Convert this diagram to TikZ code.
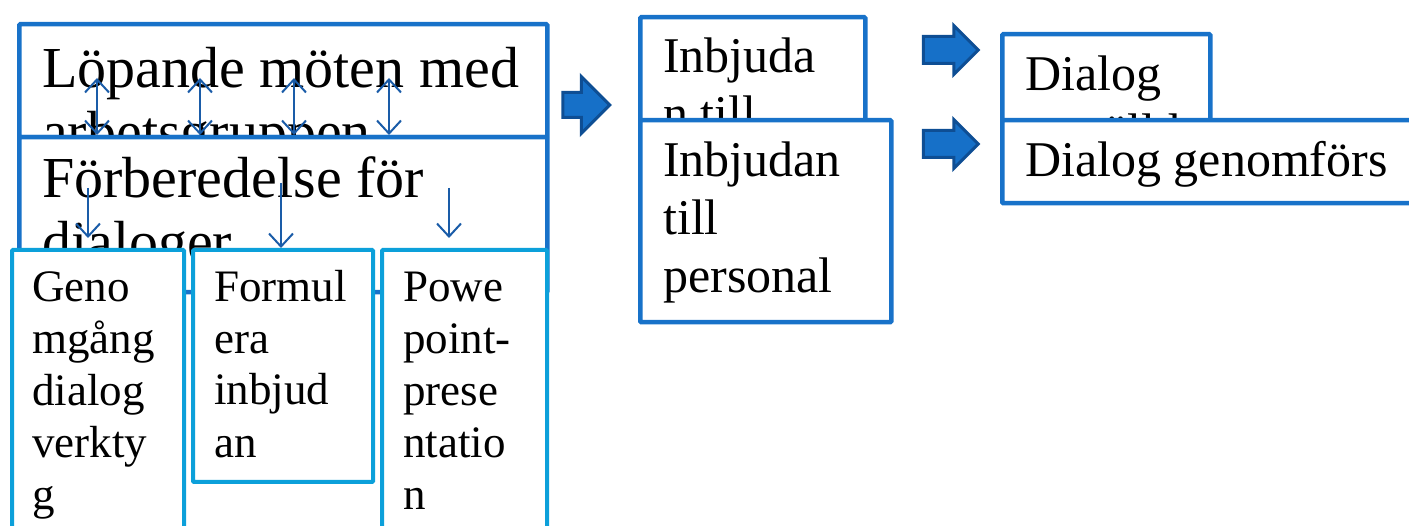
\documentclass[tikz,border=0pt]{standalone}
\usepackage{fontspec}
\setmainfont{Liberation Serif}
\usetikzlibrary{shapes.arrows,arrows.meta,positioning,calc}
\usepackage{xcolor}

\definecolor{boxblue}{RGB}{24,114,201}
\definecolor{boxcyan}{RGB}{12,160,218}
\definecolor{linkblue}{RGB}{26,92,168}
\definecolor{flowfill}{RGB}{22,112,200}
\definecolor{flowedge}{RGB}{14,78,148}

\begin{document}
\begin{tikzpicture}[x=1pt, y=-1pt]
    \tikzstyle{card} = [rectangle, draw=boxblue, line width=4.5pt, fill=white, rounded corners=1pt, anchor=north west, inner sep=0pt]
    \tikzstyle{subcard} = [card, draw=boxcyan, line width=4pt]
    % texten placeras efter sista radens baslinje
    \tikzstyle{bigtext} = [anchor=base west, inner sep=0pt, align=left, font=\fontsize{58}{64}\selectfont]
    \tikzstyle{midtext} = [anchor=base west, inner sep=0pt, align=left, font=\fontsize{50}{58}\selectfont]
    \tikzstyle{smalltext} = [anchor=base west, inner sep=0pt, align=left, font=\fontsize{45}{52}\selectfont]
    \tikzstyle{link} = [draw=linkblue, line width=2pt, >={Straight Barb[length=13pt, width=24pt]}]
    \tikzstyle{flow} = [single arrow, draw=flowedge, fill=flowfill, line width=3pt, inner xsep=0pt]

    \clip (0,0) rectangle (1409,526);

    % Förberedelser
    \node[card, minimum width=528pt, minimum height=113pt] (meet) at (17,22) {};
    \node[bigtext] (meettext) at (42,152) {Löpande möten med\\arbetsgruppen};
    \node[card, minimum width=528pt, minimum height=155pt] (prep) at (17,135) {};
    \node[bigtext] (preptext) at (42,262) {Förberedelse för\\dialoger};

    \node[subcard, minimum width=172pt, minimum height=300pt] (walk) at (10,248) {};
    \node[smalltext] (walktext) at (32,509) {Geno\\mgång\\dialog\\verkty\\g};
    \node[subcard, minimum width=180pt, minimum height=232pt] (form) at (191,248) {};
    \node[smalltext] (formtext) at (214,457) {Formul\\era\\inbjud\\an};
    \node[subcard, minimum width=165pt, minimum height=300pt] (ppt) at (380,248) {};
    \node[smalltext] (ppttext) at (403,509) {Powe\\point-\\prese\\ntatio\\n};

    % Inbjudningar
    \node[card, minimum width=225pt, minimum height=105pt] (invite) at (638,15) {};
    \node[midtext] (invitetext) at (663,131) {Inbjuda\\n till};
    \node[card, minimum width=251pt, minimum height=202pt] (staff) at (638,118) {};
    \node[midtext] (stafftext) at (663,293) {Inbjudan\\till\\personal};

    % Dialoger
    \node[card, minimum width=208pt, minimum height=90pt] (dlgplan) at (1000,32) {};
    \node[midtext] (dlgplantext) at (1025,149) {Dialog\\anställda};
    \node[card, minimum width=430pt, minimum height=83pt] (dlgrun) at (1000,118) {};
    \node[midtext] (dlgruntext) at (1025,177) {Dialog genomförs};

    % Blockpilar
    \node[flow, inner ysep=11pt, minimum height=47pt, single arrow head extend=16pt] (go1) at (580,105) {};
    \node[flow, inner ysep=12pt, minimum height=55pt, single arrow head extend=11pt] (go2) at (944,50) {};
    \node[flow, inner ysep=12pt, minimum height=55pt, single arrow head extend=11pt] (go3) at (944,144) {};

    % Pilar
    \foreach \x in {97,200,294,389}
        \draw[link, <->] (\x,78) -- (\x,0 |- prep.north);
    \draw[link, ->] (88,188) -- (88,238);
    \draw[link, ->] (281,183) -- (281,0 |- form.north);
    \draw[link, ->] (449,188) -- (449,238);
\end{tikzpicture}
\end{document}
